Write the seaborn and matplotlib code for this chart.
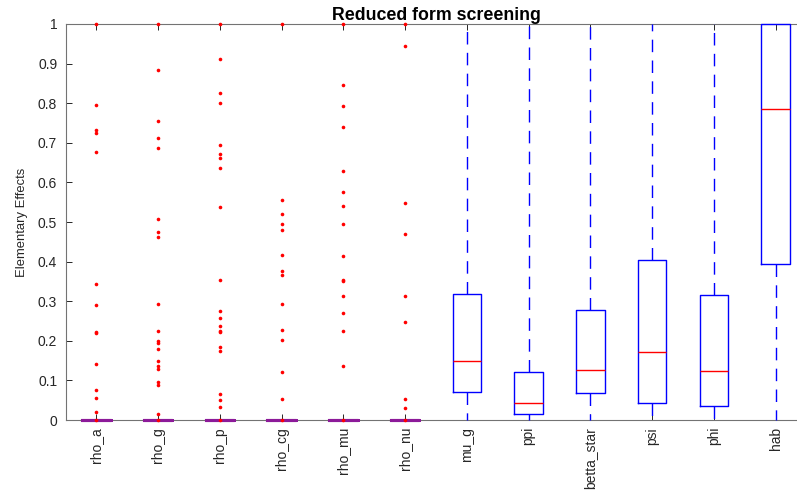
import numpy as np
import pandas as pd
import matplotlib
matplotlib.use("Agg")
import matplotlib.pyplot as plt
import seaborn as sns

names = ["rho_a", "rho_g", "rho_p", "rho_cg", "rho_mu", "rho_nu",
         "mu_g", "ppi", "betta_star", "psi", "phi", "hab"]
q1 = [0, 0, 0, 0, 0, 0, 0.071, 0.015, 0.068, 0.043, 0.035, 0.393]
med = [0, 0, 0, 0, 0, 0, 0.148, 0.043, 0.127, 0.172, 0.124, 0.785]
q3 = [0, 0, 0, 0, 0, 0, 0.317, 0.122, 0.277, 0.404, 0.315, 1.0]
whisker_lo = [0, 0, 0, 0, 0, 0, 0, 0, 0, 0, 0, 0]
whisker_hi = [0, 0, 0, 0, 0, 0, 1, 1, 1, 1, 1, 1]

out_rho_a = [1.0, 0.795, 0.732, 0.725, 0.676, 0.343, 0.291, 0.221, 0.219,
             0.141, 0.077, 0.055, 0.021, 0.0]
out_rho_g = [1.0, 0.884, 0.756, 0.711, 0.686, 0.508, 0.475, 0.462, 0.294,
             0.224, 0.200, 0.195, 0.180, 0.150, 0.136, 0.128, 0.095, 0.088,
             0.015, 0.0]
out_rho_p = [1.0, 0.912, 0.826, 0.801, 0.694, 0.671, 0.662, 0.636, 0.538,
             0.354, 0.274, 0.257, 0.237, 0.224, 0.221, 0.184, 0.173, 0.066,
             0.050, 0.033, 0.0]
out_rho_cg = [1.0, 0.555, 0.519, 0.496, 0.480, 0.416, 0.377, 0.367, 0.293,
              0.228, 0.202, 0.122, 0.053, 0.0]
out_rho_mu = [1.0, 0.845, 0.792, 0.741, 0.628, 0.577, 0.541, 0.495, 0.414,
              0.353, 0.350, 0.314, 0.271, 0.225, 0.136, 0.0]
out_rho_nu = [1.0, 0.945, 0.549, 0.470, 0.312, 0.247, 0.052, 0.031, 0.0]

outliers = {"rho_a": out_rho_a, "rho_g": out_rho_g, "rho_p": out_rho_p,
            "rho_cg": out_rho_cg, "rho_mu": out_rho_mu, "rho_nu": out_rho_nu}

# Build five-number tables for the boxes
rows = []
for i, n in enumerate(names):
    for v in (whisker_lo[i], q1[i], med[i], q3[i], whisker_hi[i]):
        rows.append((n, v))
box_df = pd.DataFrame(rows, columns=["name", "value"])
flat_names = names[:6]
box_flat = box_df[box_df["name"].isin(flat_names)]
box_full = box_df[~box_df["name"].isin(flat_names)]

out_rows = [(n, v) for n, vals in outliers.items() for v in vals]
out_df = pd.DataFrame(out_rows, columns=["name", "value"])

plt.rcParams["font.family"] = ["Liberation Sans", "DejaVu Sans"]
plt.rcParams["lines.scale_dashes"] = False

fig = plt.figure(figsize=(7.97, 4.93), dpi=100)
W, H = 797, 493
left, right, top, bottom = 65.5, 806.5, 24, 420
ax = fig.add_axes([left / W, (H - bottom) / H, (right - left) / W, (bottom - top) / H])

purple = (0.55, 0.1, 0.6)
sns.boxplot(data=box_flat, x="name", y="value", order=names, whis=(0, 100),
            width=0.46, fill=False, color=purple, linewidth=2.2,
            showcaps=False, showfliers=False,
            medianprops=dict(color=purple), ax=ax)
sns.boxplot(data=box_full, x="name", y="value", order=names, whis=(0, 100),
            width=0.46, fill=False, color="blue", linewidth=1.0,
            showcaps=False, showfliers=False,
            whiskerprops=dict(linestyle=(0, (9, 6)), color="blue"),
            medianprops=dict(color="red", linewidth=1.0), ax=ax)
for art in list(ax.lines) + list(ax.patches):
    art.set_zorder(3)
    art.set_clip_on(False)
sns.stripplot(data=out_df, x="name", y="value", order=names, jitter=False,
              color="red", size=2.6, linewidth=0, ax=ax, zorder=4,
              clip_on=False)

ax.set_xlim(-0.5, 11.5)
ax.set_ylim(0, 1)
yt = np.round(np.arange(0, 1.01, 0.1), 1)
ax.set_yticks(yt)
ax.set_yticklabels(["%g" % v for v in yt])
ax.set_xticks(range(len(names)))
ax.set_xticklabels(names, rotation=90)
ax.set_xlabel("")
ax.set_ylabel("Elementary Effects", fontsize=9.4, color="0.15", labelpad=7)
ax.set_title("Reduced form screening", fontsize=12.8, fontweight="bold", pad=3)
ax.tick_params(direction="in", length=4, width=0.7, top=True, right=True,
               labelsize=10, labelcolor="0.15", color="0.15")
ax.tick_params(axis="y", pad=6)
ax.tick_params(axis="x", pad=5)
for s in ax.spines.values():
    s.set_color("0.45")
    s.set_linewidth(0.8)
ax.set_facecolor("white")

fig.savefig("out.png", dpi=100)
